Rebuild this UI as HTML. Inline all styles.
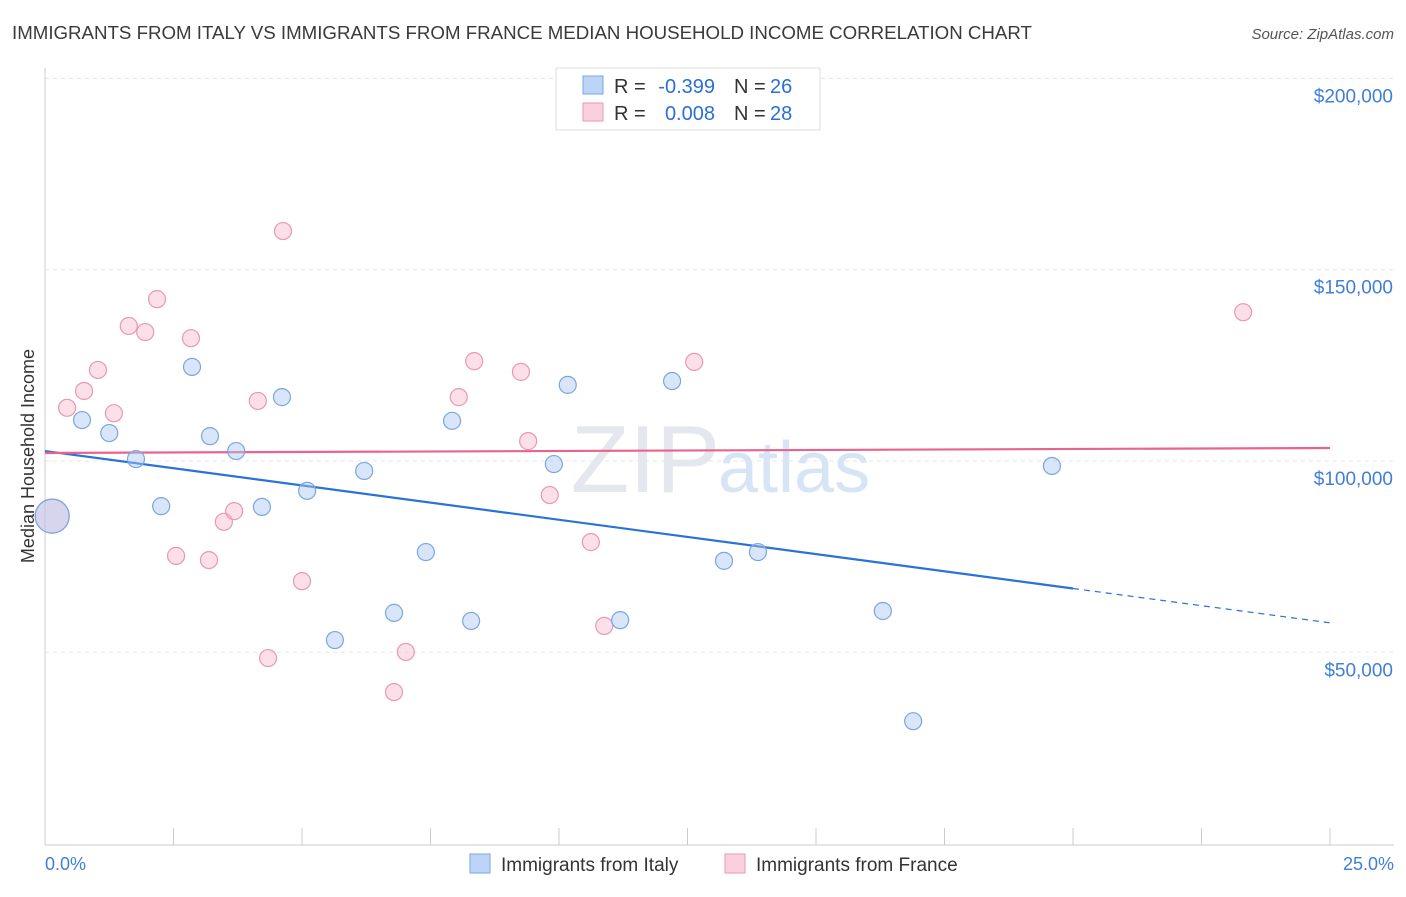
<!DOCTYPE html>
<html><head><meta charset="utf-8"><style>
body{margin:0;background:#fff;font-family:"Liberation Sans",sans-serif;}
svg text{font-family:"Liberation Sans",sans-serif;}
</style></head><body>
<svg id="chart" width="1406" height="892" xmlns="http://www.w3.org/2000/svg">
<text x="12" y="39" font-size="18.7" fill="#3a3a3a">IMMIGRANTS FROM ITALY VS IMMIGRANTS FROM FRANCE MEDIAN HOUSEHOLD INCOME CORRELATION CHART</text>
<text x="1394" y="39" font-size="15" fill="#555" text-anchor="end" font-style="italic">Source: ZipAtlas.com</text>
<text x="720" y="492" font-size="96" fill="#e4e8ee" text-anchor="end" font-family="Liberation Serif">ZIP</text>
<text x="718" y="492" font-size="72" fill="#d6e4f6">atlas</text>
<g id="grid"></g><g id="axes"></g><g id="lines"></g><g id="pts"></g>
<text transform="translate(34,456) rotate(-90)" font-size="18" fill="#333" text-anchor="middle">Median Household Income</text>
<text x="45" y="870" font-size="18" fill="#3f7fd9">0.0%</text>
<text x="1394" y="870" font-size="18" fill="#3f7fd9" text-anchor="end">25.0%</text>
<g font-size="20">
<rect x="556" y="68" width="264" height="62" fill="#fff" stroke="#ddd"/>
<rect x="583" y="76" width="20" height="18" fill="#bcd4f6" stroke="#7aa6e0"/>
<rect x="583" y="103" width="20" height="18" fill="#fbd0dd" stroke="#e898b4"/>
<text x="614" y="93" fill="#333">R =</text>
<text x="715" y="93" fill="#2a6fd6" text-anchor="end">-0.399</text>
<text x="734" y="93" fill="#333">N =</text>
<text x="770" y="93" fill="#2a6fd6">26</text>
<text x="614" y="120" fill="#333">R =</text>
<text x="715" y="120" fill="#2a6fd6" text-anchor="end">0.008</text>
<text x="734" y="120" fill="#333">N =</text>
<text x="770" y="120" fill="#2a6fd6">28</text>
</g>
<g>
<rect x="470" y="854" width="20" height="19" fill="#bcd4f6" stroke="#7aa6e0"/>
<text x="501" y="871" font-size="19" fill="#333">Immigrants from Italy</text>
<rect x="725" y="854" width="20" height="19" fill="#fbd0dd" stroke="#e898b4"/>
<text x="756" y="871" font-size="19" fill="#333">Immigrants from France</text>
</g>
</svg>
<script>
const yTicks=[50,100,150,200];
const yTickLabels=["$50,000","$100,000","$150,000","$200,000"];
const xTicks=[0,2.5,5,7.5,10,12.5,15,17.5,20,22.5,25];
const italyX=[0.14,0.72,1.25,1.77,2.26,2.86,3.21,3.72,4.22,4.61,5.10,5.64,6.21,6.79,7.41,7.92,8.29,9.90,10.17,11.19,12.20,13.21,13.87,16.30,16.89,19.59];
const italyY=[85.6,110.7,107.3,100.5,88.2,124.6,106.5,102.6,88.0,116.7,92.2,53.2,97.4,60.3,76.2,110.5,58.2,99.2,119.9,58.4,120.9,73.9,76.2,60.8,32.0,98.7];
const franceX=[0.14,0.43,0.76,1.03,1.34,1.63,1.95,2.18,2.55,2.84,3.19,3.48,3.68,4.14,4.34,4.63,5.00,6.79,7.02,8.05,8.35,9.26,9.40,9.82,10.62,10.88,12.63,23.31];
const franceY=[85.6,113.9,118.3,123.8,112.5,135.3,133.7,142.3,75.2,132.1,74.1,84.1,86.9,115.7,48.5,160.1,68.6,39.6,50.1,116.7,126.1,123.3,105.2,91.1,78.8,56.9,125.9,138.9];
const italyTrend=[102.6,57.7];
const franceTrend=[102.1,103.4];
const NS="http://www.w3.org/2000/svg";
const X=p=>45+p*1285/25;
const Y=v=>461-(v-100)*191.3/50;
function mk(tag,attrs,parent){const e=document.createElementNS(NS,tag);for(const k in attrs)e.setAttribute(k,attrs[k]);document.getElementById(parent).appendChild(e);return e;}
yTicks.forEach((t,i)=>{
 const g=mk('line',{x1:45,x2:1394,y1:Y(t),y2:Y(t),stroke:'#e6e6e6','stroke-dasharray':'4,4'},'grid');
 
 
 const l=mk('text',{x:1393,y:Y(t)+24,'font-size':19,fill:'#3f7fd9','text-anchor':'end'},'grid');
 l.textContent=yTickLabels[i];
 
 
});
const xa=mk('line',{x1:45,x2:1394,y1:845,y2:845,stroke:'#ccc'},'axes');


const ya=mk('line',{x1:45,x2:45,y1:68,y2:845,stroke:'#ccc'},'axes');


xTicks.forEach(t=>{if(t===0)return;
 const k=mk('line',{x1:X(t),x2:X(t),y1:828,y2:845,stroke:'#ccc'},'axes');
 
 
});
function pts(xs,ys,fill,stroke,name){
 xs.forEach((x,i)=>{const big=i===0;
  const c=mk('circle',{cx:X(x),cy:Y(ys[i]),r:big?17:8.5,fill:fill,stroke:stroke,'stroke-width':1.2},'pts');
  
  
 });
}
pts(franceX,franceY,'rgba(246,178,200,0.4)','#e898b4','france-point');
pts(italyX,italyY,'rgba(170,200,242,0.45)','#7aa6e0','italy-point');
const iv=x=>italyTrend[0]+(italyTrend[1]-italyTrend[0])*x/25;
const l1=mk('line',{x1:X(0),y1:Y(iv(0)),x2:X(20),y2:Y(iv(20)),stroke:'#2a72d8','stroke-width':2.2},'lines');


const l2=mk('line',{x1:X(20),y1:Y(iv(20)),x2:X(25),y2:Y(iv(25)),stroke:'#2a72d8','stroke-width':1.2,'stroke-dasharray':'6,5'},'lines');


const l3=mk('line',{x1:X(0),y1:Y(franceTrend[0]),x2:X(25),y2:Y(franceTrend[1]),stroke:'#e8648f','stroke-width':2.2},'lines');


</script>
</body></html>
